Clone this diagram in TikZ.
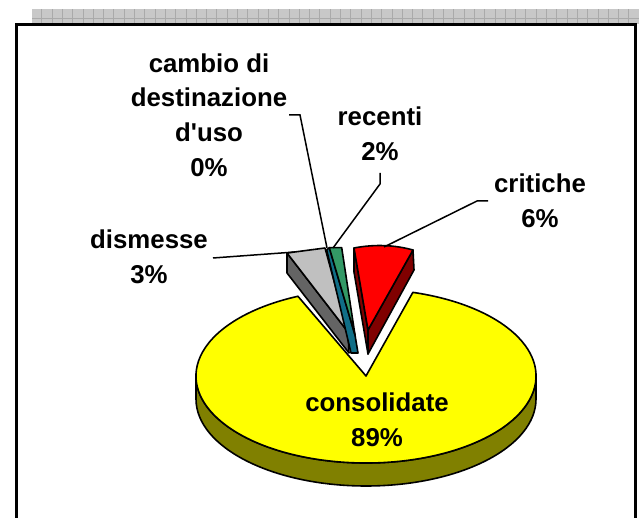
\documentclass[tikz,border=0pt]{standalone}
\usepackage{fontspec}
\setmainfont{Liberation Sans}[Ligatures=TeXOff]
\definecolor{stripgray}{RGB}{200,200,200}
\definecolor{gridgray}{RGB}{170,170,170}
\definecolor{pieyellow}{RGB}{255,255,0}
\definecolor{pieolive}{RGB}{128,128,0}
\definecolor{piered}{RGB}{255,0,0}
\definecolor{piedarkred}{RGB}{128,0,0}
\definecolor{pielgray}{RGB}{192,192,192}
\definecolor{piedgray}{RGB}{100,100,100}
\definecolor{piegreen}{RGB}{51,153,102}
\definecolor{pieteal}{RGB}{16,110,135}
\begin{document}
\begin{tikzpicture}[x=1pt,y=1pt,
  lbl/.style={font=\fontsize{25.8}{34.7}\selectfont\bfseries, align=center, inner sep=0pt},
  leader/.style={line width=1.5pt, black, line join=miter},
  slice/.style={draw=black, line width=1.6pt, line join=round}]
\useasboundingbox (0,0) rectangle (639,518);
% top strip
\fill[stripgray] (32,494) rectangle (639,509);
\foreach \i in {0,...,58} \draw[gridgray, line width=0.7pt] ({41.7+10.3*\i},494) -- ++(0,15);
\draw[gridgray, line width=0.7pt] (32,499.7) -- (639,499.7);
% frame
\draw[line width=3pt] (16.3,-5) -- (16.3,493) -- (635.5,493) -- (635.5,-5);
% yellow slice: side then top
\filldraw[slice, fill=pieolive] (196,142) arc[start angle=180,end angle=360,x radius=170,y radius=87]
  -- ++(0,-23) arc[start angle=0,end angle=-180,x radius=170,y radius=87] -- cycle;
\filldraw[slice, fill=pieyellow] (366,142) -- ({366+170*cos(74)},{142+87*sin(74)})
  arc[start angle=74,end angle=-246.4,x radius=170,y radius=87] -- cycle;
% dismesse (gray)
\coordinate (gTL) at (287,265); \coordinate (gTR) at (325,270);
\coordinate (gA) at (348,186); \coordinate (gTLd) at (287,245); \coordinate (gAd) at (349,165);
\filldraw[slice, fill=piedgray] (gTL) -- (gTLd) -- (gAd) -- (gA) -- cycle;
\filldraw[slice, fill=pielgray] (gTL) -- (gTR) -- (gA) -- cycle;
% cambio (teal) and recenti (green)
\coordinate (tTL) at (326.7,268); \coordinate (nTL) at (329.3,270.3);
\coordinate (nTR) at (341.7,270.3); \coordinate (nA) at (355,183);
\coordinate (tB1) at (358,165); \coordinate (tB2) at (351,165);
\filldraw[slice, fill=pieteal] (tTL) -- (nTL) -- (nA) -- (tB1) -- (tB2) -- cycle;
\filldraw[slice, fill=piegreen] (nTL) -- (nTR) -- (nA) -- cycle;
% critiche (red)
\coordinate (rTL) at (354,270); \coordinate (rTR) at (413,268); \coordinate (rA) at (368,188);
\coordinate (rTLd) at (354,246); \coordinate (rAd) at (368,164); \coordinate (rTRd) at (414,248);
\filldraw[slice, fill=piedarkred] (rTL) -- (rTLd) -- (rAd) -- (rA) -- cycle;
\filldraw[slice, fill=piedarkred] (rTR) -- (rTRd) -- (rAd) -- (rA) -- cycle;
\filldraw[slice, fill=piered] (rTL) .. controls (375,274) and (395,273) .. (rTR) -- (rA) -- cycle;
% labels
\node[lbl] (cambio) at (209,403) {cambio di\\destinazione\\d'uso\\0\%};
\node[lbl] (recenti) at (380,384) {recenti\\2\%};
\node[lbl] (critiche) at (540,317) {critiche\\6\%};
\node[lbl] (dismesse) at (149,261.5) {dismesse\\3\%};
\node[lbl] (consolidate) at (377,98.5) {consolidate\\89\%};
% leaders
\coordinate (cL) at (289,403); \coordinate (cK) at (300,403); \coordinate (cE) at (327,270);
\coordinate (reL) at (380,345); \coordinate (reK) at (380,334); \coordinate (reE) at (333,270);
\coordinate (crL) at (488,317); \coordinate (crK) at (477,317); \coordinate (crE) at (384,271);
\coordinate (dL) at (213,260); \coordinate (dE) at (295,266);
\draw[leader] (cL) -- (cK) -- (cE);
\draw[leader] (reL) -- (reK) -- (reE);
\draw[leader] (crL) -- (crK) -- (crE);
\draw[leader] (dL) -- (dE);
\end{tikzpicture}
\end{document}
